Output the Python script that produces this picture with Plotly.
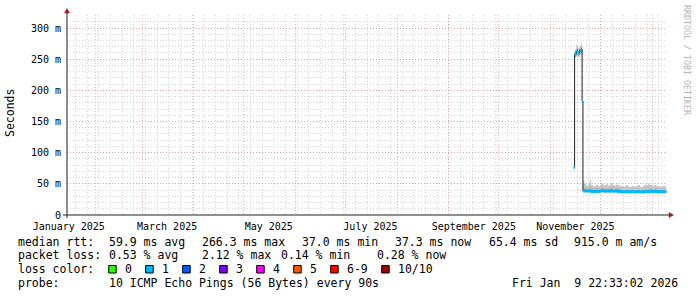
import pandas as pd
import plotly.graph_objects as go

# ---------------- data ----------------
# early part (12h-ish resolution around the transitions)
times_early = ["2025-11-15 00:00", "2025-11-15 12:00", "2025-11-16 12:00", "2025-11-17 12:00",
               "2025-11-18 12:00", "2025-11-19 12:00", "2025-11-20 00:00"]
rtt_early = [76.0, 258.0, 263.0, 260.0, 264.0, 266.3, 183.0]
lo_early = [75.0, 253.0, 256.0, 254.0, 257.0, 259.0, 181.0]
mid_early = [77.0, 262.0, 267.0, 264.0, 268.0, 270.0, 185.0]
hi_early = [78.0, 266.0, 273.0, 268.0, 272.0, 277.0, 186.0]

# later part, one value per day starting 2025-11-20 12:00
late_start = "2025-11-20 12:00"
rtt_late = [38.6, 38.8, 38.5, 38.9, 38.4, 37.9, 37.6, 37.8, 38.0, 37.5,
            38.6, 38.9, 38.7, 38.3, 38.5, 38.6, 38.4, 38.8, 38.2, 38.5,
            38.3, 38.0, 37.6, 37.3, 37.4, 37.2, 37.5, 37.3, 37.1, 37.4,
            37.2, 37.0, 37.3, 37.5, 37.2, 37.4, 37.1, 37.3, 37.6, 37.4,
            37.8, 38.0, 37.7, 37.9, 37.6, 37.4, 37.2, 37.5, 37.3, 37.4,
            37.3]
lo_late = [36.9, 37.0, 36.8, 37.1, 36.7, 36.3, 36.0, 36.2, 36.4, 35.9,
           36.9, 37.1, 37.0, 36.6, 36.8, 36.9, 36.7, 37.0, 36.5, 36.8,
           36.6, 36.3, 36.0, 35.7, 35.8, 35.6, 35.9, 35.7, 35.5, 35.8,
           35.6, 35.4, 35.7, 35.9, 35.6, 35.8, 35.5, 35.7, 36.0, 35.8,
           36.2, 36.3, 36.1, 36.2, 36.0, 35.8, 35.6, 35.9, 35.7, 35.8,
           35.7]
mid_late = [44, 43, 42, 43, 45, 42, 41, 42, 43, 41,
            43, 44, 43, 42, 43, 42, 43, 44, 42, 42,
            42, 42, 41, 41, 40, 40, 41, 40, 40, 41,
            40, 40, 41, 41, 40, 40, 41, 42, 41, 43,
            42, 42, 41, 42, 41, 41, 40, 41, 41, 41,
            41]
hi_late = [54, 50, 47, 49, 55, 48, 46, 47, 49, 46,
           48, 51, 49, 48, 50, 47, 49, 51, 48, 47,
           49, 48, 46, 47, 45, 46, 48, 46, 45, 47,
           46, 45, 47, 48, 46, 45, 47, 49, 48, 50,
           48, 49, 47, 48, 46, 47, 45, 46, 47, 46,
           46]

range_start = "2025-01-14 22:33:02"
range_end = "2026-01-09 22:33:02"
y_max = 320.9

y_tick_vals = [0, 50, 100, 150, 200, 250, 300]
y_tick_text = ["0", "50 m", "100 m", "150 m", "200 m", "250 m", "300 m"]

month_label_dates = ["2025-01-16", "2025-03-16", "2025-05-16", "2025-07-16", "2025-09-16", "2025-11-16"]
month_labels = ["January 2025", "March 2025", "May 2025", "July 2025", "September 2025", "November 2025"]

loss_labels = ["0", "1", "2", "3", "4", "5", "6-9", "10/10"]
loss_colors = ["#26ff00", "#00b8ff", "#0059ff", "#7e00ff", "#ff00ff", "#ff5500", "#ff0000", "#a10000"]
band_color = "#00b8ff"
band_half = 2.5

# ---------------- build ----------------
x = list(pd.to_datetime(times_early)) + list(pd.date_range(late_start, periods=len(rtt_late), freq="D"))
rtt = rtt_early + rtt_late
lo = lo_early + lo_late
mid = mid_early + [float(v) for v in mid_late]
hi = hi_early + [float(v) for v in hi_late]

FONT = "DejaVu Sans Mono"
MGRID = "rgba(228,120,120,0.55)"
GRID = "rgba(165,165,165,0.45)"
DASH = "1px,2px"

fig = go.Figure()
# smoke
fig.add_trace(go.Scatter(x=x, y=lo, mode="lines", line=dict(width=0, shape="hv"),
                         hoverinfo="skip", showlegend=False))
fig.add_trace(go.Scatter(x=x, y=hi, mode="lines", line=dict(width=0, shape="hv"),
                         fill="tonexty", fillcolor="#c6c6c6", hoverinfo="skip", showlegend=False))
fig.add_trace(go.Scatter(x=x, y=lo, mode="lines", line=dict(width=0, shape="hv"),
                         hoverinfo="skip", showlegend=False))
fig.add_trace(go.Scatter(x=x, y=mid, mode="lines", line=dict(width=0, shape="hv"),
                         fill="tonexty", fillcolor="#b4b4b4", hoverinfo="skip", showlegend=False))
# median line
fig.add_trace(go.Scatter(x=x, y=rtt, mode="lines", line=dict(width=1, color="#202020", shape="hv"),
                         showlegend=False))
# loss-colour band
fig.add_trace(go.Scatter(x=x, y=[v - band_half for v in rtt], mode="lines",
                         line=dict(width=0, shape="hv"), hoverinfo="skip", showlegend=False))
fig.add_trace(go.Scatter(x=x, y=[v + band_half for v in rtt], mode="lines",
                         line=dict(width=0, shape="hv"), fill="tonexty", fillcolor=band_color,
                         hoverinfo="skip", showlegend=False))
# invisible trace to activate xaxis2
fig.add_trace(go.Scatter(x=[range_start, range_end], y=[None, None], xaxis="x2", yaxis="y",
                         mode="lines", showlegend=False, hoverinfo="skip"))

month_starts = pd.date_range("2025-02-01", "2026-01-01", freq="MS")
weeks = pd.date_range("2025-01-20", "2026-01-09", freq="7D")

fig.update_layout(
    width=697, height=297,
    margin=dict(l=67, r=30, t=15, b=82, pad=0),
    paper_bgcolor="white", plot_bgcolor="white",
    font=dict(family=FONT, size=10, color="black"),
    showlegend=False,
    xaxis=dict(type="date", range=[range_start, range_end], tickmode="array",
               tickvals=list(month_starts), showticklabels=False, ticks="",
               showgrid=True, gridcolor=MGRID, griddash=DASH, gridwidth=1,
               minor=dict(tickmode="array", tickvals=list(weeks), showgrid=True,
                          gridcolor=GRID, griddash=DASH, gridwidth=1, ticks=""),
               showline=False, zeroline=False, fixedrange=True),
    xaxis2=dict(type="date", range=[range_start, range_end], overlaying="x", side="bottom",
                anchor="y", tickmode="array", tickvals=month_label_dates, ticktext=month_labels,
                showgrid=False, ticks="", showline=False, zeroline=False, ticklabelstandoff=4,
                tickfont=dict(family=FONT, size=10, color="black")),
    yaxis=dict(range=[0, y_max], tickmode="array", tickvals=y_tick_vals, ticktext=y_tick_text,
               showgrid=True, gridcolor=MGRID, griddash=DASH, gridwidth=1,
               minor=dict(dtick=10, showgrid=True, gridcolor=GRID, griddash=DASH, gridwidth=1, ticks=""),
               ticks="", showline=False, zeroline=False, ticklabelstandoff=5,
               tickfont=dict(family=FONT, size=10, color="black")),
)

W, H = 600.0, 200.0
def P(px, py):
    return ((px - 67) / W, (215 - py) / H)

AX = "#202020"
ARROW = "#a01818"
shapes = []
# axis lines
x0, y0 = P(67, 218); x1, y1 = P(67, 11)
shapes.append(dict(type="line", xref="paper", yref="paper", x0=x0, y0=y0, x1=x1, y1=y1,
                   line=dict(color=AX, width=1)))
x0, y0 = P(63, 215); x1, y1 = P(670, 215)
shapes.append(dict(type="line", xref="paper", yref="paper", x0=x0, y0=y0, x1=x1, y1=y1,
                   line=dict(color=AX, width=1)))
# arrows
a, b = P(67, 8.5); c, d = P(64.5, 13); e, f = P(69.5, 13)
shapes.append(dict(type="path", xref="paper", yref="paper",
                   path=f"M {a},{b} L {c},{d} L {e},{f} Z", fillcolor=ARROW, line=dict(color=ARROW, width=0.5)))
a, b = P(673.5, 215); c, d = P(669, 212.5); e, f = P(669, 217.5)
shapes.append(dict(type="path", xref="paper", yref="paper",
                   path=f"M {a},{b} L {c},{d} L {e},{f} Z", fillcolor=ARROW, line=dict(color=ARROW, width=0.5)))

ann = []
def txt(px, py, s, anchor="left", size=11.5, color="black", angle=0):
    xx, yy = P(px, py)
    ann.append(dict(xref="paper", yref="paper", x=xx, y=yy, text=s.replace(" ", "\u00a0"),
                    showarrow=False, xanchor=anchor, yanchor="middle", textangle=angle,
                    font=dict(family=FONT, size=size, color=color)))

# y title and watermark
txt(10, 113, "Seconds", anchor="center", angle=-90)
txt(687, 60, "RRDTOOL / TOBI OETIKER", anchor="center", size=8.3, color="#b4b4b4", angle=90)

# legend rows
r1, r2, r3, r4 = 241.5, 255.2, 269.0, 282.7
txt(16, r1, "median rtt:")
txt(107.3, r1, "59.9 ms avg")
txt(200, r1, "266.3 ms max")
txt(300, r1, "37.0 ms min")
txt(393.3, r1, "37.3 ms now")
txt(486.7, r1, "65.4 ms sd")
txt(571.7, r1, "915.0 m am/s")

txt(16, r2, "packet loss:")
txt(107.3, r2, "0.53 % avg")
txt(200, r2, "2.12 % max")
txt(279.3, r2, "0.14 % min")
txt(375, r2, "0.28 % now")

txt(16, r3, "loss color:")
bx = 108.7
for lab, col in zip(loss_labels, loss_colors):
    u0, v0 = P(bx, r3 + 4)
    u1, v1 = P(bx + 7.5, r3 - 3.5)
    shapes.append(dict(type="rect", xref="paper", yref="paper", x0=u0, y0=v0, x1=u1, y1=v1,
                       fillcolor=col, line=dict(color="black", width=1)))
    txt(bx + 14.6, r3, lab)
    bx += 30 + 7 * len(lab)

txt(16, r4, "probe:")
txt(107.3, r4, "10 ICMP Echo Pings (56 Bytes) every 90s")
txt(680, r4, "Fri Jan  9 22:33:02 2026", anchor="right")

fig.update_layout(shapes=shapes, annotations=ann)
fig.write_html("out.html")
